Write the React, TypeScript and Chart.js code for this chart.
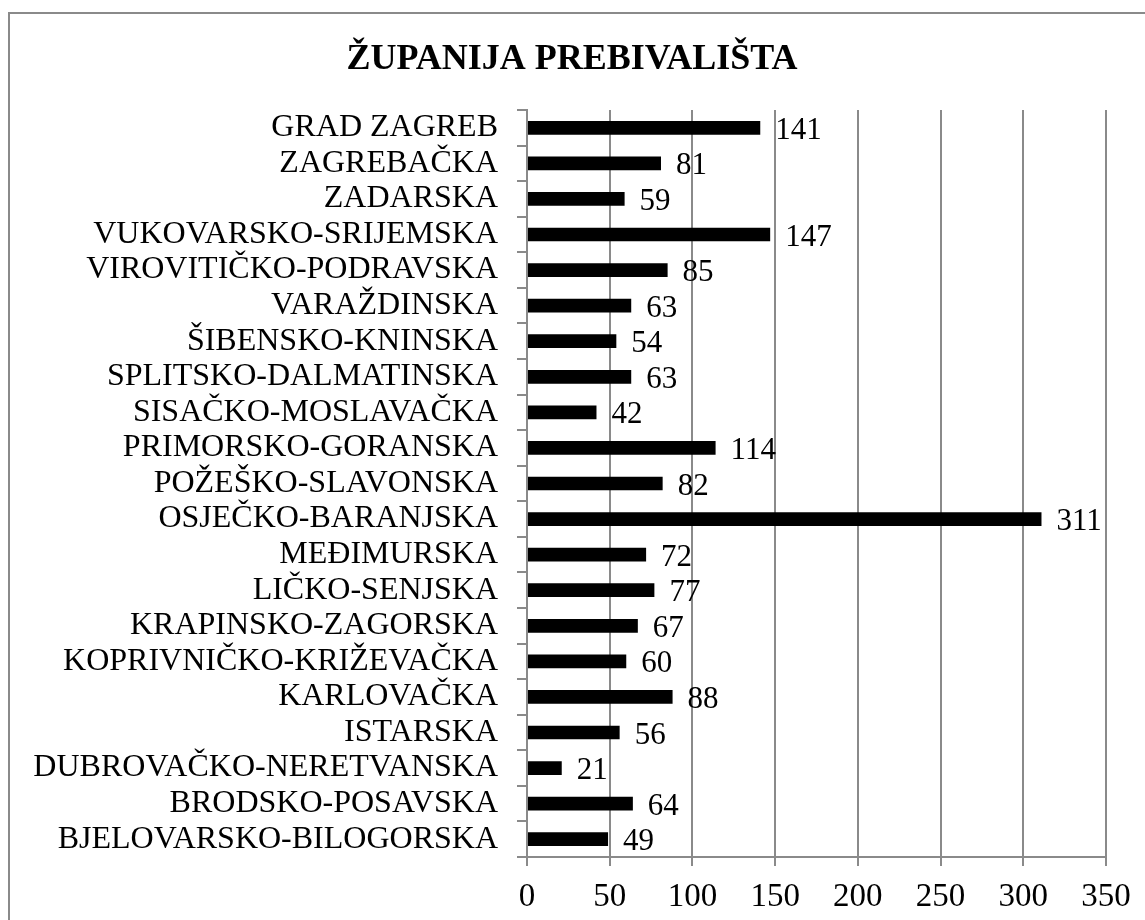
import React, { useEffect, useRef } from "react";
import { Chart, registerables } from "chart.js";

Chart.register(...registerables);

const TITLE = "ŽUPANIJA PREBIVALIŠTA";

const categories = [
  "GRAD ZAGREB",
  "ZAGREBAČKA",
  "ZADARSKA",
  "VUKOVARSKO-SRIJEMSKA",
  "VIROVITIČKO-PODRAVSKA",
  "VARAŽDINSKA",
  "ŠIBENSKO-KNINSKA",
  "SPLITSKO-DALMATINSKA",
  "SISAČKO-MOSLAVAČKA",
  "PRIMORSKO-GORANSKA",
  "POŽEŠKO-SLAVONSKA",
  "OSJEČKO-BARANJSKA",
  "MEĐIMURSKA",
  "LIČKO-SENJSKA",
  "KRAPINSKO-ZAGORSKA",
  "KOPRIVNIČKO-KRIŽEVAČKA",
  "KARLOVAČKA",
  "ISTARSKA",
  "DUBROVAČKO-NERETVANSKA",
  "BRODSKO-POSAVSKA",
  "BJELOVARSKO-BILOGORSKA",
];

const values = [141, 81, 59, 147, 85, 63, 54, 63, 42, 114, 82, 311, 72, 77, 67, 60, 88, 56, 21, 64, 49];

const xMin = 0;
const xMax = 350;
const xStep = 50;

const FONT = "'Liberation Serif', 'Times New Roman', serif";
const GRID = "#8a8a8a";

const framePlugin = {
  id: "frame",
  beforeDraw(chart: any) {
    const ctx = chart.ctx;
    ctx.save();
    ctx.fillStyle = "#ffffff";
    ctx.fillRect(0, 0, chart.width, chart.height);
    ctx.fillStyle = GRID;
    ctx.fillRect(8, 12, chart.width - 8, 2);
    ctx.fillRect(8, 12, 2, chart.height - 12);
    ctx.restore();
  },
  afterDraw(chart: any) {
    const ctx = chart.ctx;
    ctx.save();
    ctx.fillStyle = "#000000";
    ctx.font = `bold 36px ${FONT}`;
    ctx.textAlign = "center";
    ctx.textBaseline = "alphabetic";
    ctx.fillText(TITLE, 572, 69);
    ctx.restore();
  },
};

const labelPlugin = {
  id: "valueLabels",
  afterDatasetsDraw(chart: any) {
    const ctx = chart.ctx;
    const meta = chart.getDatasetMeta(0);
    const data = chart.data.datasets[0].data;
    ctx.save();
    ctx.fillStyle = "#000000";
    ctx.font = `31px ${FONT}`;
    ctx.textAlign = "left";
    ctx.textBaseline = "middle";
    meta.data.forEach((bar: any, i: number) => {
      ctx.fillText(String(data[i]), bar.x + 15, bar.y + 3);
    });
    ctx.restore();
  },
};

export default function App() {
  const ref = useRef<HTMLCanvasElement | null>(null);

  useEffect(() => {
    if (!ref.current) return;
    const chart = new Chart(ref.current, {
      type: "bar",
      data: {
        labels: categories,
        datasets: [
          {
            data: values,
            backgroundColor: "#000000",
            borderColor: "#000000",
            borderWidth: 0,
            barPercentage: 0.385,
            categoryPercentage: 1,
          },
        ],
      },
      options: {
        indexAxis: "y",
        responsive: false,
        animation: false,
        devicePixelRatio: 1,
        layout: { padding: { top: 110, left: 0, right: 39, bottom: 0 } },
        plugins: {
          legend: { display: false },
          tooltip: { enabled: false },
          title: { display: false },
        },
        scales: {
          x: {
            min: xMin,
            max: xMax,
            ticks: {
              stepSize: xStep,
              color: "#000000",
              font: { family: FONT, size: 33 },
              padding: 12,
            },
            grid: {
              color: GRID,
              lineWidth: 2,
              tickLength: 9,
              drawTicks: true,
            },
            border: { color: GRID, width: 2 },
            afterFit(scale: any) {
              scale.height = 63;
            },
          },
          y: {
            ticks: {
              color: "#000000",
              font: { family: FONT, size: 32 },
              padding: 19,
              autoSkip: false,
            },
            grid: {
              drawOnChartArea: false,
              drawTicks: true,
              tickLength: 10,
              color: GRID,
              lineWidth: 2,
            },
            border: { color: GRID, width: 2 },
            afterFit(scale: any) {
              scale.width = 527;
            },
          },
        },
      },
      plugins: [framePlugin, labelPlugin],
    });
    return () => chart.destroy();
  }, []);

  return (
    <div style={{ position: "absolute", left: 0, top: 0, width: 1145, height: 920 }}>
      <canvas ref={ref} width={1145} height={920} style={{ width: 1145, height: 920 }} />
    </div>
  );
}
